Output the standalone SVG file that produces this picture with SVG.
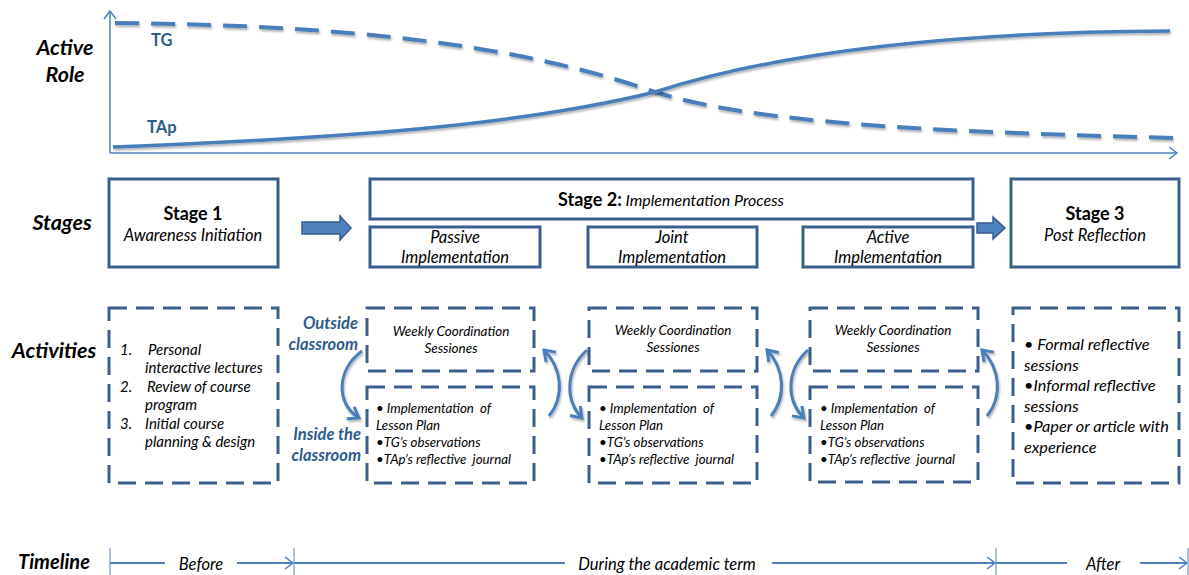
<svg xmlns="http://www.w3.org/2000/svg" width="1189" height="575" viewBox="0 0 1189 575">
<style>
  text { font-family: Lato, "Open Sans", sans-serif; fill: #000; white-space: pre; }
  .rowlbl { font-weight: bold; font-style: italic; font-size: 21.5px; }
  .box { fill: #fff; stroke: #3b5e8c; stroke-width: 3; }
  .dbox { fill: #fff; stroke: #3b5e8c; stroke-width: 3; stroke-dasharray: 18 9; }
  .stitle { font-weight: bold; font-size: 18px; }
  .it { font-style: italic; }
  .curve { fill: none; stroke: #4a7ebb; stroke-width: 3; }
  .axis { fill: none; stroke: #4f81bd; stroke-width: 1.5; }
  .blue { fill: #2e5a8c; font-weight: bold; font-style: italic; font-size: 16.5px; }
  .lbl { fill: #2e5a8c; font-weight: bold; font-size: 16.5px; }
  .tl { fill: none; stroke: #4f81bd; stroke-width: 2; }
  .tick { stroke: #4f81bd; stroke-width: 1; }
</style>
<defs>
  <marker id="open" markerUnits="userSpaceOnUse" markerWidth="20" markerHeight="20" refX="0" refY="0" viewBox="-12 -10 14 20" orient="auto">
    <path d="M-8,-6 L0,0 L-8,6" fill="none" stroke="#4f81bd" stroke-width="1.5"/>
  </marker>
  <marker id="head" markerUnits="userSpaceOnUse" markerWidth="24" markerHeight="24" refX="0" refY="0" viewBox="-14 -12 16 24" orient="auto">
    <path d="M-10,-7 L0,0 L-10,7" fill="none" stroke="#4a7ebb" stroke-width="3" stroke-linejoin="miter"/>
  </marker>
  <filter id="sh" x="-10%" y="-50%" width="120%" height="200%">
    <feDropShadow dx="1" dy="2" stdDeviation="1.2" flood-color="#000" flood-opacity="0.3"/>
  </filter>
</defs>

<!-- Row labels -->
<g id="row-labels">
  <text class="rowlbl" x="65" y="55" text-anchor="middle">Active</text>
  <text class="rowlbl" x="65" y="82" text-anchor="middle">Role</text>
  <text class="rowlbl" x="62" y="230" text-anchor="middle">Stages</text>
  <text class="rowlbl" x="54" y="358" text-anchor="middle">Activities</text>
  <text class="rowlbl" x="54" y="569" text-anchor="middle" style="font-size:20px">Timeline</text>
</g>

<!-- Chart -->
<g id="chart">
  <line class="axis" x1="110" y1="153" x2="110" y2="11" marker-end="url(#open)"/>
  <line class="axis" x1="110" y1="153" x2="1177" y2="153" marker-end="url(#open)"/>
  <path id="tg-line" d="M115,23 C350,25 520,45 655,92 C760,125 950,132 1175,138" fill="none" stroke="#4a7ebb" stroke-width="4" stroke-dasharray="24 12" filter="url(#sh)"/>
  <path id="tap-line" d="M113,147 C350,138 520,125 655,92 C770,55 940,32 1170,31" fill="none" stroke="#4a7ebb" stroke-width="3.5" filter="url(#sh)"/>
  <text class="lbl" x="151" y="46">TG</text>
  <text class="lbl" x="147" y="133">TAp</text>
</g>

<!-- Stages -->
<g id="stage1">
  <rect class="box" x="109" y="179" width="169" height="88"/>
  <text class="stitle" x="193" y="220" text-anchor="middle">Stage 1</text>
  <text class="it" x="193" y="241" text-anchor="middle" font-size="16.5">Awareness Initiation</text>
</g>
<g id="stage2">
  <rect class="box" x="370" y="179" width="603" height="40"/>
  <text x="671" y="206" text-anchor="middle"><tspan class="stitle">Stage 2:</tspan><tspan class="it" font-size="16"> Implementation Process</tspan></text>
</g>
<g id="passive">
  <rect class="box" x="370" y="227" width="170" height="40"/>
  <text class="it" x="455" y="243" text-anchor="middle" font-size="16.5">Passive</text>
  <text class="it" x="455" y="263" text-anchor="middle" font-size="16.5">Implementation</text>
</g>
<g id="joint">
  <rect class="box" x="588" y="227" width="169" height="40"/>
  <text class="it" x="672" y="243" text-anchor="middle" font-size="16.5">Joint</text>
  <text class="it" x="672" y="263" text-anchor="middle" font-size="16.5">Implementation</text>
</g>
<g id="active">
  <rect class="box" x="803" y="227" width="170" height="40"/>
  <text class="it" x="888" y="243" text-anchor="middle" font-size="16.5">Active</text>
  <text class="it" x="888" y="263" text-anchor="middle" font-size="16.5">Implementation</text>
</g>
<g id="stage3">
  <rect class="box" x="1011" y="179" width="168" height="88"/>
  <text class="stitle" x="1095" y="220" text-anchor="middle">Stage 3</text>
  <text class="it" x="1095" y="241" text-anchor="middle" font-size="16.5">Post Reflection</text>
</g>

<!-- Activities -->
<g id="act1">
  <rect class="dbox" x="109" y="308" width="169" height="175"/>
  <g class="it" font-size="15">
    <text x="120" y="355">1.</text><text x="148" y="355">Personal</text>
    <text x="145" y="373">interactive lectures</text>
    <text x="120" y="392">2.</text><text x="147" y="392">Review of course</text>
    <text x="145" y="410">program</text>
    <text x="120" y="429">3.</text><text x="145" y="429">Initial course</text>
    <text x="145" y="447">planning &amp; design</text>
  </g>
</g>
<g id="side-labels">
  <text class="blue" x="358" y="329" text-anchor="end">Outside</text>
  <text class="blue" x="358" y="350" text-anchor="end">classroom</text>
  <text class="blue" x="361" y="440" text-anchor="end">Inside the</text>
  <text class="blue" x="361" y="461" text-anchor="end">classroom</text>
</g>

<g id="weekly-a">
  <rect class="dbox" x="367" y="308" width="167" height="63"/>
  <text class="it" x="451" y="336" text-anchor="middle" font-size="13.5">Weekly Coordination</text>
  <text class="it" x="451" y="353" text-anchor="middle" font-size="13.5">Sessiones</text>
</g>
<g id="inside-a">
  <rect class="dbox" x="367" y="387" width="167" height="96"/>
  <g class="it" font-size="13.3">
    <text x="376" y="413">• Implementation  of</text>
    <text x="376" y="430">Lesson Plan</text>
    <text x="376" y="447">•TG’s observations</text>
    <text x="376" y="464">•TAp’s reflective  journal</text>
  </g>
</g>
<g id="weekly-b">
  <rect class="dbox" x="589" y="308" width="168" height="63"/>
  <text class="it" x="673" y="335" text-anchor="middle" font-size="13.5">Weekly Coordination</text>
  <text class="it" x="673" y="352" text-anchor="middle" font-size="13.5">Sessiones</text>
</g>
<g id="inside-b">
  <rect class="dbox" x="589" y="387" width="168" height="96"/>
  <g class="it" font-size="13.3">
    <text x="599" y="413">• Implementation  of</text>
    <text x="599" y="430">Lesson Plan</text>
    <text x="599" y="447">•TG’s observations</text>
    <text x="599" y="464">•TAp’s reflective  journal</text>
  </g>
</g>
<g id="weekly-c">
  <rect class="dbox" x="810" y="308" width="168" height="63"/>
  <text class="it" x="893" y="335" text-anchor="middle" font-size="13.5">Weekly Coordination</text>
  <text class="it" x="893" y="352" text-anchor="middle" font-size="13.5">Sessiones</text>
</g>
<g id="inside-c">
  <rect class="dbox" x="810" y="387" width="168" height="95"/>
  <g class="it" font-size="13.3">
    <text x="820" y="413">• Implementation  of</text>
    <text x="820" y="430">Lesson Plan</text>
    <text x="820" y="447">•TG’s observations</text>
    <text x="820" y="464">•TAp’s reflective  journal</text>
  </g>
</g>
<g id="act3">
  <rect class="dbox" x="1013" y="308" width="166" height="175"/>
  <g class="it" font-size="16.3">
    <text x="1024" y="350">• Formal reflective</text>
    <text x="1024" y="371">sessions</text>
    <text x="1024" y="391">•Informal reflective</text>
    <text x="1024" y="412">sessions</text>
    <text x="1024" y="432">•Paper or article with</text>
    <text x="1024" y="453">experience</text>
  </g>
</g>

<!-- Connectors -->
<g id="connectors">
  <polygon points="302,222 340,222 340,216 351,228 340,240 340,234 302,234" fill="#4f81bd" stroke="#385d8a" stroke-width="1.5"/>
  <polygon points="977,223 993,223 993,217 1005,228 993,239 993,233 977,233" fill="#4f81bd" stroke="#385d8a" stroke-width="1.5"/>
  <g filter="url(#sh)">
    <path class="curve" d="M362,351 C336,370 336,404 359,418" marker-end="url(#head)"/>
    <path class="curve" d="M549,416 C565,396 562,368 544,350" marker-end="url(#head)"/>
    <path class="curve" d="M587,350 C565,370 565,400 582,418" marker-end="url(#head)"/>
    <path class="curve" d="M771,416 C787,396 784,368 767,350" marker-end="url(#head)"/>
    <path class="curve" d="M808,350 C786,370 786,400 804,418" marker-end="url(#head)"/>
    <path class="curve" d="M987,416 C1003,396 1000,368 982,350" marker-end="url(#head)"/>
  </g>
</g>

<!-- Timeline -->
<g id="timeline">
  <line class="tick" x1="110" y1="548" x2="110" y2="575"/>
  <line class="tick" x1="294" y1="548" x2="294" y2="575"/>
  <line class="tick" x1="996" y1="548" x2="996" y2="575"/>
  <line class="tick" x1="1188" y1="548" x2="1188" y2="575"/>
  <line class="tl" x1="110" y1="563" x2="165" y2="563"/>
  <line class="tl" x1="237" y1="563" x2="293" y2="563" marker-end="url(#open)"/>
  <line class="tl" x1="294" y1="563" x2="565" y2="563"/>
  <line class="tl" x1="772" y1="563" x2="995" y2="563" marker-end="url(#open)"/>
  <line class="tl" x1="996" y1="563" x2="1067" y2="563"/>
  <line class="tl" x1="1140" y1="563" x2="1187" y2="563" marker-end="url(#open)"/>
  <text class="it" x="201" y="570" text-anchor="middle" font-size="16.5">Before</text>
  <text class="it" x="667" y="570" text-anchor="middle" font-size="16.5">During the academic term</text>
  <text class="it" x="1103" y="570" text-anchor="middle" font-size="16.5">After</text>
</g>
</svg>
